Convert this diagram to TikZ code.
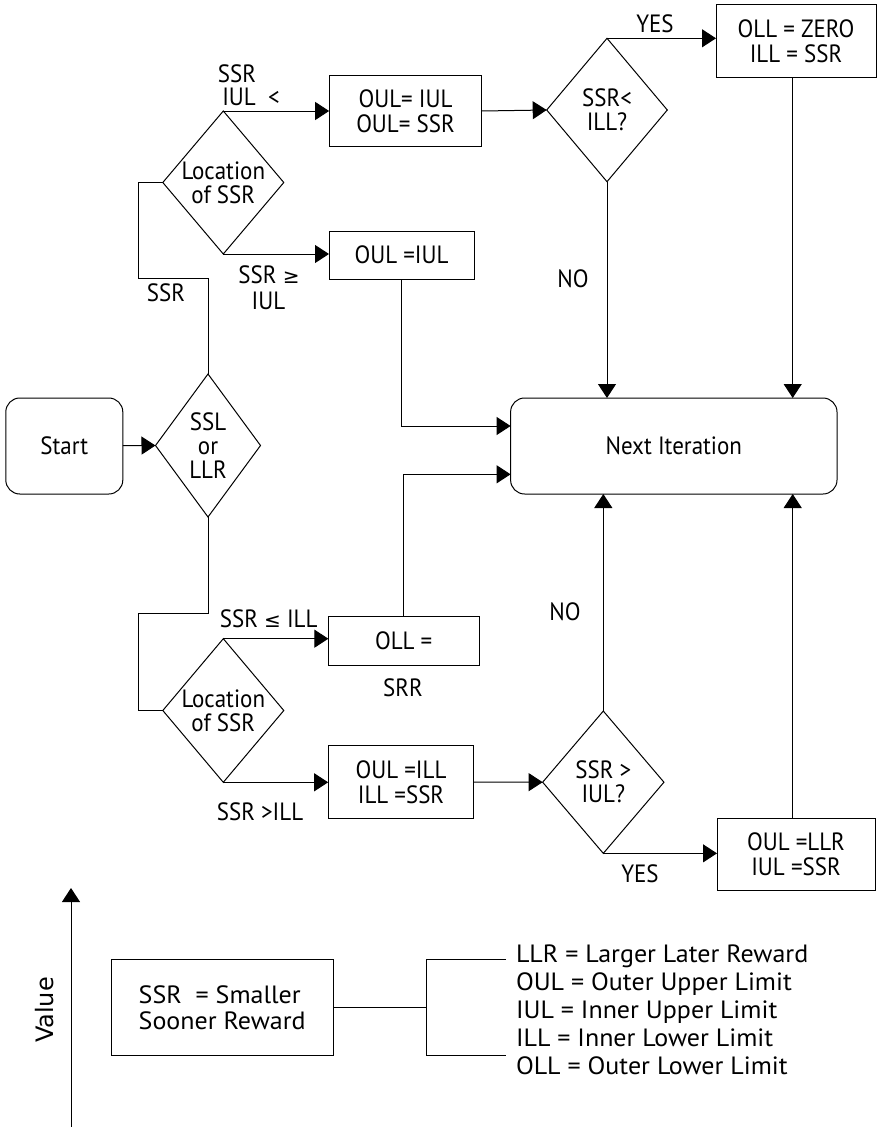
\documentclass[tikz,border=0pt]{standalone}
\usepackage{fontspec}
\setmainfont[FakeStretch=0.92]{PT Sans}
\newfontfamily\legfont[FakeStretch=1.04]{PT Sans}
\newfontfamily\valuefont{DejaVu Sans}
\newcommand{\symf}[1]{{\valuefont\fontsize{20}{20}\selectfont #1}}
\usetikzlibrary{shapes.geometric,arrows.meta}
\tikzset{
  every node/.style={font=\fontsize{25}{25}\selectfont, inner sep=0pt, outer sep=0pt},
  box/.style 2 args={draw, line width=1pt, minimum width=#1pt, minimum height=#2pt, align=center},
  rbox/.style 2 args={draw, line width=1pt, rounded corners=14pt, minimum width=#1pt, minimum height=#2pt, align=center},
  dia/.style 2 args={draw, line width=1pt, diamond, minimum width=#1pt, minimum height=#2pt},
  dtext/.style={align=center, font=\fontsize{25}{24}\selectfont},
  lbl/.style={align=center},
  conn/.style={line width=1pt},
  arr/.style={line width=1pt, -{Triangle[length=14pt,width=18pt]}}
}
\begin{document}
\begin{tikzpicture}[x=1pt,y=-1pt]
\useasboundingbox (0,0) rectangle (877,1127);

% nodes
\node[rbox={117}{96}] (start) at (64.3,446) {Start};
\node[dia={105}{143}] (ssl) at (208,445.5) {};
\node[dtext] (sslt) at (208,445.5) {SSL\\or\\LLR};

\node[dia={121}{143}] (loc1) at (223.3,182.5) {};
\node[dtext] (loc1t) at (223.3,182.5) {Location\\of SSR};

\node[box={152.7}{71.7}] (b1) at (405.5,111) {OUL= IUL\\OUL= SSR};
\node[dia={120.6}{143.4}] (d2) at (607,110) {};
\node[dtext] (d2t) at (607,110) {SSR<\\ILL?};
\node[box={160}{72.3}] (b2) at (796,41) {OLL = ZERO\\ILL = SSR};
\node[box={145}{48}] (b3) at (401.5,255) {OUL =IUL};

\node[rbox={326.4}{96}] (ni) at (673.8,446) {Next Iteration};

\node[dia={121}{143.6}] (loc2) at (223.3,710.5) {};
\node[dtext] (loc2t) at (223.3,710.5) {Location\\of SSR};
\node[box={150.7}{48.3}] (b4) at (403.7,641) {OLL =};
\node[lbl] (srr) at (403,688) {SRR};
\node[box={145.7}{72.6}] (b5) at (401,782) {OUL =ILL\\ILL =SSR};
\node[dia={121.3}{142.3}] (d3) at (603.3,782.2) {};
\node[dtext] (d3t) at (603.3,782.2) {SSR >\\IUL?};
\node[box={158}{72}] (b6) at (796,854) {OUL =LLR\\IUL =SSR};

% labels
\node[lbl] (l1) at (237,74) {SSR};
\node[lbl] (l2) at (251,97) {IUL\ \ {<}};
\node[lbl] (l3) at (269,275) {SSR \symf{≥}};
\node[lbl] (l4) at (268.5,301) {IUL};
\node[lbl] (l5) at (166,293) {SSR};
\node[lbl] (l6) at (655,24) {YES};
\node[lbl] (l7) at (573,279) {NO};
\node[lbl] (l8) at (268.7,618.5) {SSR \symf{≤} ILL};
\node[lbl] (l9) at (260,812) {SSR >ILL};
\node[lbl] (l10) at (565,612) {NO};
\node[lbl] (l11) at (640,874) {YES};

% coordinates
\coordinate (c1) at (138.3,278);
\coordinate (c2) at (138.3,613.3);
\coordinate (c3) at (0,426);
\coordinate (c4) at (0,474.3);
\coordinate (x2) at (792.7,0);

% connectors
\draw[arr] (start) -- (ssl.west);
\draw[conn] (ssl.north) |- (c1) |- (loc1.west);
\draw[arr] (loc1.north) -- (b1.west |- loc1.north);
\draw[arr] (b1.east) -- (d2.west);
\draw[arr] (d2.north) -- (b2.west |- d2.north);
\draw[arr] (d2.south) -- (d2.south |- ni.north);
\draw[arr] (b2.south -| x2) -- (ni.north -| x2);
\draw[arr] (loc1.south) -- (b3.west |- loc1.south);
\draw[arr] (b3.south) |- (ni.west |- c3);
\draw[arr] (b4.north) |- (ni.west |- c4);
\draw[conn] (ssl.south) |- (c2) |- (loc2.west);
\draw[arr] (loc2.north) -- (b4.west |- loc2.north);
\draw[arr] (loc2.south) -- (b5.west |- loc2.south);
\draw[arr] (b5.east) -- (d3.west);
\draw[arr] (d3.north) -- (d3.north |- ni.south);
\draw[arr] (d3.south) -- (b6.west |- d3.south);
\draw[arr] (b6.north -| x2) -- (ni.south -| x2);

% legend
\coordinate (vbot) at (71,1127);
\coordinate (vtop) at (71,888);
\draw[arr] (vbot) -- (vtop);
\node[rotate=90, font=\valuefont\fontsize{24}{24}\selectfont] (val) at (45,1010) {Value};
\node[draw, line width=1pt, minimum width=221.5pt, minimum height=96pt] (lb) at (222.5,1007.3) {};
\node[anchor=west, align=left, font=\legfont\fontsize{25}{26}\selectfont] (lbt) at (138.7,1008) {SSR\ \ = Smaller\\Sooner Reward};
\coordinate (br) at (426.7,1007.3);
\coordinate (brt) at (426.7,959.3);
\coordinate (brb) at (426.7,1055.3);
\coordinate (brte) at (506,959.3);
\coordinate (brbe) at (506,1055.3);
\draw[conn] (lb.east) -- (br);
\draw[conn] (brte) -- (brt) -- (brb) -- (brbe);
\node[anchor=west, align=left, font=\legfont\fontsize{25}{28}\selectfont] (leg) at (516,1010) {LLR = Larger Later Reward\\OUL = Outer Upper Limit\\IUL = Inner Upper Limit\\ILL = Inner Lower Limit\\OLL = Outer Lower Limit};
\end{tikzpicture}
\end{document}
